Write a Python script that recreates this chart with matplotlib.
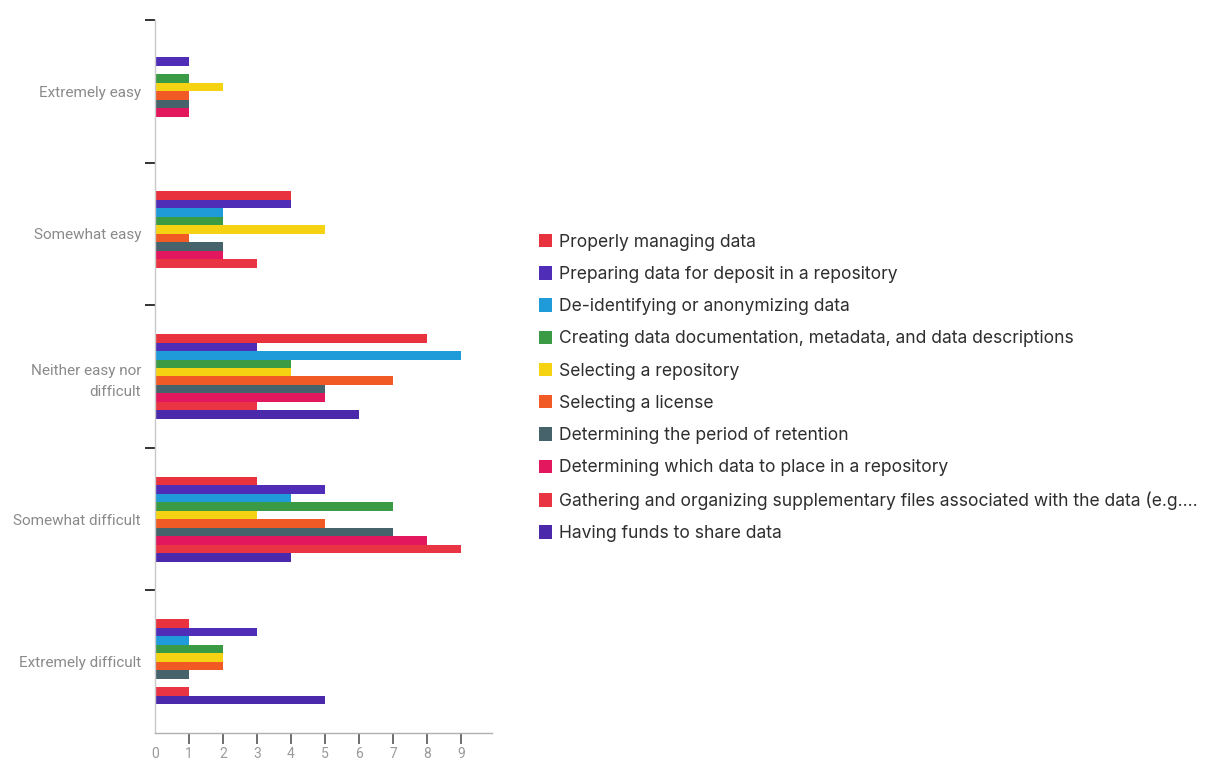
import matplotlib
matplotlib.use("Agg")
import matplotlib.pyplot as plt
from matplotlib.patches import Patch
import numpy as np

plt.rcParams['font.family'] = ['Roboto', 'DejaVu Sans']

categories = ["Extremely easy", "Somewhat easy", "Neither easy nor\ndifficult",
              "Somewhat difficult", "Extremely difficult"]

series_names = [
    "Properly managing data",
    "Preparing data for deposit in a repository",
    "De-identifying or anonymizing data",
    "Creating data documentation, metadata, and data descriptions",
    "Selecting a repository",
    "Selecting a license",
    "Determining the period of retention",
    "Determining which data to place in a repository",
    "Gathering and organizing supplementary files associated with the data (e.g....",
    "Having funds to share data",
]

# counts per category (Extremely easy .. Extremely difficult)
properly_managing = [0, 4, 8, 3, 1]
preparing_deposit = [1, 4, 3, 5, 3]
deidentifying = [0, 2, 9, 4, 1]
documentation = [1, 2, 4, 7, 2]
selecting_repo = [2, 5, 4, 3, 2]
selecting_license = [1, 1, 7, 5, 2]
retention_period = [1, 2, 5, 7, 1]
which_data = [1, 2, 5, 8, 0]
supplementary_files = [0, 3, 3, 9, 1]
funds_to_share = [0, 0, 6, 4, 5]

series_values = [properly_managing, preparing_deposit, deidentifying, documentation,
                 selecting_repo, selecting_license, retention_period, which_data,
                 supplementary_files, funds_to_share]

colors = ["#e8323d", "#4f2db6", "#1e9bd8", "#3a9b44", "#f5d312",
          "#f15a25", "#46636b", "#e2175e", "#e93444", "#4a2aab"]

x_ticks = list(range(10))

fig = plt.figure(figsize=(12.13, 7.63), dpi=100)
ax = fig.add_axes([155 / 1213, 30 / 763, (9.9 * 34) / 1213, 713 / 763])

n = len(series_values)
bar_h = 0.0595
ypos = np.arange(len(categories))
for j, (vals, col) in enumerate(zip(series_values, colors)):
    ax.barh(ypos + (j - (n - 1) / 2) * bar_h, vals, height=bar_h,
            color=col, edgecolor='none')

ax.set_xlim(0, 9.9)
ax.set_ylim(len(categories) - 0.5, -0.5)

ax.set_yticks(ypos)
ax.set_yticklabels(categories, fontsize=11, color="#8a8a8a", linespacing=1.6)
ax.tick_params(axis='y', which='major', length=0, pad=10)
ax.set_yticks(np.arange(-0.5, len(categories) - 0.5, 1.0), minor=True)
ax.tick_params(axis='y', which='minor', length=7, width=1.4, color="#333333")

ax.set_xticks(x_ticks)
ax.set_xticklabels([str(t) for t in x_ticks], fontsize=10, color="#9a9a9a")
ax.tick_params(axis='x', length=8, width=1.2, color="#555555", pad=2,
               direction='out')
ax.xaxis.get_major_ticks()[0].tick1line.set_visible(False)

for side in ('top', 'right'):
    ax.spines[side].set_visible(False)
ax.spines['left'].set_color("#c8c8c8")
ax.spines['left'].set_linewidth(1.0)
ax.spines['bottom'].set_color("#b0b0b0")
ax.spines['bottom'].set_linewidth(1.0)

handles = [Patch(facecolor=c, edgecolor='none') for c in colors]
leg = fig.legend(handles, series_names, loc='center left',
                 bbox_to_anchor=(532 / 1213, 1 - 388 / 763), frameon=False,
                 prop={'family': ['Inter', 'DejaVu Sans'], 'size': 12.6},
                 handlelength=0.75, handleheight=0.8,
                 handletextpad=0.4, labelspacing=0.87, borderaxespad=0,
                 labelcolor="#2e2e2e")

fig.savefig("out.png", dpi=100, facecolor="white")
